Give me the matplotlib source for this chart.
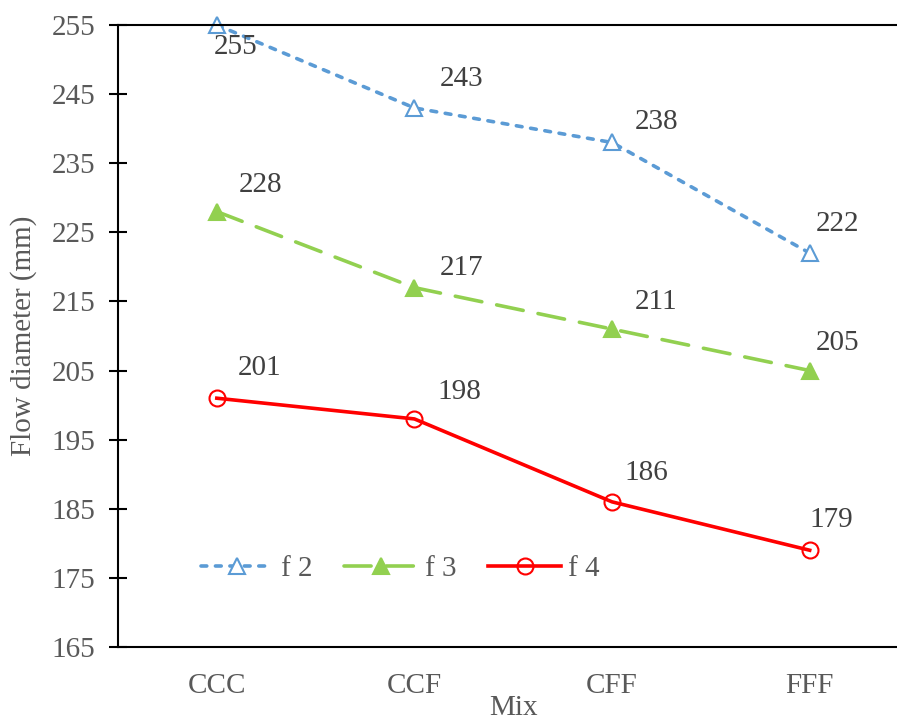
import matplotlib.pyplot as plt
import numpy as np

mixes = ["CCC", "CCF", "CFF", "FFF"]
f2 = [255, 243, 238, 222]
f3 = [228, 217, 211, 205]
f4 = [201, 198, 186, 179]
y_ticks = [165, 175, 185, 195, 205, 215, 225, 235, 245, 255]

# label offsets in pixels (dx, dy) relative to each point
off_f2 = [(19, -22), (47, 29), (44, 20), (28, 29)]
off_f3 = [(44, 27), (47, 20), (44, 27), (28, 28)]
off_f4 = [(43, 30), (45, 27), (34, 29), (22, 30)]

plt.rcParams["font.family"] = ["Liberation Serif", "DejaVu Serif"]
FS = 21

fig = plt.figure(figsize=(8.97, 7.2), dpi=100)
ax = fig.add_axes([118 / 897, 73 / 720, 790.5 / 897, 622 / 720])

x = np.arange(len(mixes))
px = 72 / 100

series = [
    ("f 2", f2, off_f2, dict(color="#5B9BD5", linestyle=(0, (1.6, 2.4)), marker="^",
                            markerfacecolor="white", markeredgecolor="#5B9BD5")),
    ("f 3", f3, off_f3, dict(color="#92D050", linestyle=(0, (7.5, 4.2)), marker="^",
                            markerfacecolor="#92D050", markeredgecolor="#92D050")),
    ("f 4", f4, off_f4, dict(color="#FF0000", linestyle="-", marker="o",
                            markerfacecolor="none", markeredgecolor="#FF0000")),
]

for label, vals, offs, style in series:
    ax.plot(x, vals, label=label, linewidth=2.6, markersize=11.5, markeredgewidth=1.5,
            dash_capstyle="round", clip_on=False, **style)
    for xi, v, (dx, dy) in zip(x, vals, offs):
        ax.annotate(str(v), (xi, v), xytext=(dx * px, dy * px), textcoords="offset points",
                    ha="center", va="center", fontsize=FS, color="#404040")

ax.set_xlim(-0.5, 3.5)
ax.set_ylim(165, 255)
ax.set_yticks(y_ticks)
ax.set_xticks(x)
ax.set_xticklabels(mixes)

for side in ["left", "top", "bottom"]:
    ax.spines[side].set_linewidth(1.5)
    ax.spines[side].set_color("black")
ax.spines["right"].set_visible(False)

ax.tick_params(axis="y", direction="inout", length=13, width=1.5, labelsize=FS,
               labelcolor="#595959", pad=10)
ax.tick_params(axis="x", length=0, labelsize=FS, labelcolor="#595959", pad=19)

ax.set_ylabel("Flow diameter (mm)", fontsize=FS, color="#595959", labelpad=10)
ax.set_xlabel("Mix", fontsize=FS, color="#595959", labelpad=-3)

ax.legend(loc="center", bbox_to_anchor=(0.357, 0.125), ncol=3, frameon=False,
          fontsize=FS, labelcolor="#595959", handlelength=2.5, columnspacing=1.1,
          handletextpad=0.25)

fig.savefig("out.png", dpi=100)
